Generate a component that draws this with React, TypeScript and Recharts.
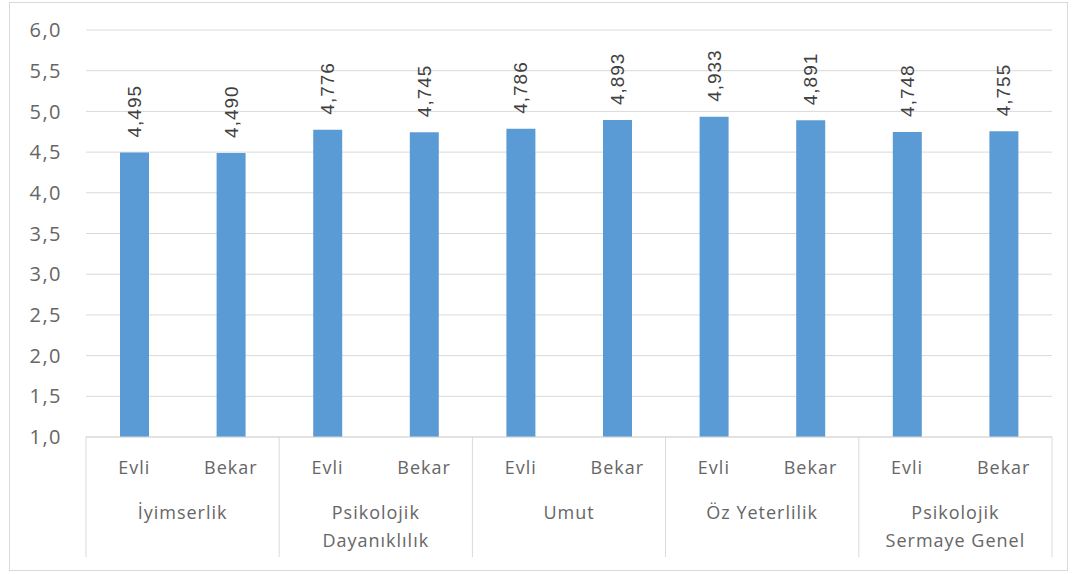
import { BarChart, Bar, XAxis, YAxis, CartesianGrid, LabelList } from "recharts";

const groups = ["İyimserlik", "Psikolojik Dayanıklılık", "Umut", "Öz Yeterlilik", "Psikolojik Sermaye Genel"];
const groupLines = [["İyimserlik"], ["Psikolojik", "Dayanıklılık"], ["Umut"], ["Öz Yeterlilik"], ["Psikolojik", "Sermaye Genel"]];
const statuses = ["Evli", "Bekar"];
const evli = [4.495, 4.776, 4.786, 4.933, 4.748];
const bekar = [4.49, 4.745, 4.893, 4.891, 4.755];
const yTicks = [1, 1.5, 2, 2.5, 3, 3.5, 4, 4.5, 5, 5.5, 6];

const data = groups.flatMap((g, i) => [
  { key: `${g}-Evli`, status: statuses[0], group: i, value: evli[i] },
  { key: `${g}-Bekar`, status: statuses[1], group: i, value: bekar[i] },
]);

const W = 1077;
const H = 574;
const PLOT_LEFT = 86;
const PLOT_RIGHT = 1052;
const BAND = (PLOT_RIGHT - PLOT_LEFT) / data.length;
const AXIS_H = 120;
const TEXT = "#666666";
const LINE = "#d9d9d9";
const FONT = "'Open Sans', sans-serif";
const fmt = (v: number) => v.toFixed(3).replace(".", ",");

function CategoryTick(props: any) {
  const { x, y, payload, index } = props;
  const d = data[index];
  const top = y;
  const out: any[] = [
    <text key="s" x={x} y={top + 30} textAnchor="middle" dominantBaseline="central" fill={TEXT} fontSize={18} letterSpacing={1} fontFamily={FONT}>
      {payload.value}
    </text>,
  ];
  if (index % 2 === 0) {
    const left = x - BAND / 2;
    const cx = x + BAND / 2;
    const lines = groupLines[d.group];
    out.push(<line key="l" x1={left} x2={left} y1={top} y2={top + AXIS_H} stroke={LINE} />);
    lines.forEach((t, k) =>
      out.push(
        <text key={"g" + k} x={cx} y={top + 75 + k * 28} textAnchor="middle" dominantBaseline="central" fill={TEXT} fontSize={18} letterSpacing={1} fontFamily={FONT}>
          {t}
        </text>
      )
    );
  }
  if (index === data.length - 1) {
    const right = x + BAND / 2;
    out.push(<line key="r" x1={right} x2={right} y1={top} y2={top + AXIS_H} stroke={LINE} />);
  }
  return <g>{out}</g>;
}

function ValueLabel(props: any) {
  const { x, y, width, value } = props;
  const cx = x + width / 2;
  const ty = y - 15;
  return (
    <text x={cx} y={ty} transform={`rotate(-90 ${cx} ${ty})`} textAnchor="start" dominantBaseline="central" fill="#404040" fontSize={19} letterSpacing={1} fontFamily="'Liberation Sans', Arial, sans-serif">
      {fmt(value)}
    </text>
  );
}

export default function App() {
  return (
    <div style={{ position: "absolute", left: 0, top: 0, width: W, height: H, background: "#fff" }}>
      <div style={{ position: "absolute", left: 9, top: 2, width: 1059, height: 569, border: `1px solid ${LINE}`, boxSizing: "border-box" }} />
      <div style={{ position: "absolute", left: 0, top: 0 }}>
        <BarChart width={W} height={H} data={data} margin={{ top: 30, right: W - PLOT_RIGHT, bottom: H - 437 - AXIS_H, left: 0 }} barCategoryGap={0}>
          <CartesianGrid vertical={false} stroke={LINE} />
          <XAxis
            dataKey="status"
            interval={0}
            height={AXIS_H}
            axisLine={{ stroke: LINE }}
            tickLine={false}
            tickSize={0}
            tickMargin={0}
            tick={<CategoryTick />}
          />
          <YAxis
            width={PLOT_LEFT}
            domain={[1, 6]}
            ticks={yTicks}
            axisLine={false}
            tickLine={false}
            tickMargin={18}
            tickFormatter={(v: number) => v.toFixed(1).replace(".", ",")}
            tick={{ fill: TEXT, fontSize: 20, letterSpacing: 1.5, fontFamily: FONT }}
          />
          <Bar dataKey="value" fill="#5b9bd5" barSize={29} isAnimationActive={false}>
            <LabelList dataKey="value" content={<ValueLabel />} />
          </Bar>
        </BarChart>
      </div>
    </div>
  );
}
